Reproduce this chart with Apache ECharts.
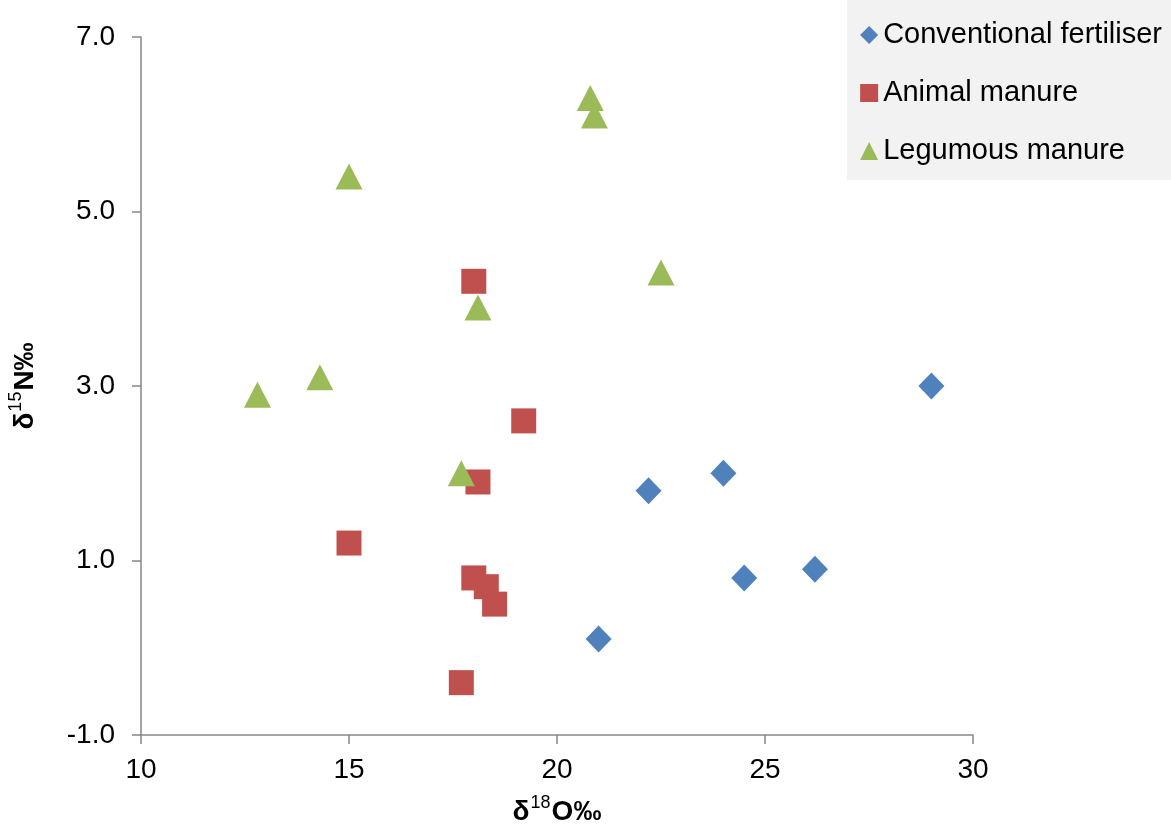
<!DOCTYPE html>
<html>
<head>
<meta charset="utf-8">
<script src="https://cdn.jsdelivr.net/npm/echarts@6/dist/echarts.min.js"></script>
<style>
html,body{margin:0;padding:0;background:#fff;}
#chart{width:1171px;height:828px;}
</style>
</head>
<body>
<div id="chart"></div>
<script>
// Data (x = δ18O‰, y = δ15N‰)
const seriesNames = ['Conventional fertiliser', 'Animal manure', 'Legumous manure'];
const conventionalFertiliser = [[29.0, 3.0], [24.0, 2.0], [22.2, 1.8], [24.5, 0.8], [26.2, 0.9], [21.0, 0.1]];
const animalManure = [[18.0, 4.2], [19.2, 2.6], [18.1, 1.9], [15.0, 1.2], [18.0, 0.8], [18.3, 0.7], [18.5, 0.5], [17.7, -0.4]];
const legumousManure = [[20.8, 6.3], [20.9, 6.1], [15.0, 5.4], [22.5, 4.3], [18.1, 3.9], [14.3, 3.1], [12.8, 2.9], [17.7, 2.0]];
const xTicks = [10, 15, 20, 25, 30];
const yTicks = [-1, 1, 3, 5, 7];

const FONT = 'Liberation Sans, Arial, sans-serif';
const axisColor = '#868686';

const titleRich = {
  b: {fontFamily: FONT, fontSize: 28, fontWeight: 'bold', color: '#000', lineHeight: 32, verticalAlign: 'bottom'},
  s: {fontFamily: FONT, fontSize: 18, fontWeight: 'normal', color: '#000', lineHeight: 32, verticalAlign: 'top', padding: [0, 1, 12, 1]}
};

const chart = echarts.init(document.getElementById('chart'), null, {renderer: 'canvas'});
chart.setOption({
  animation: false,
  backgroundColor: '#ffffff',
  textStyle: {fontFamily: FONT},
  grid: {left: 141, right: 198, top: 37, bottom: 93, containLabel: false, outerBoundsMode: 'none'},
  legend: {
    orient: 'vertical',
    right: 0,
    top: 0,
    backgroundColor: '#F2F2F2',
    padding: [20, 9, 14, 13],
    itemGap: 28,
    itemWidth: 18,
    itemHeight: 18,
    textStyle: {fontFamily: FONT, fontSize: 29, color: '#000', lineHeight: 30},
    data: [
      {name: seriesNames[0], icon: 'diamond'},
      {name: seriesNames[1], icon: 'rect'},
      {name: seriesNames[2], icon: 'triangle'}
    ]
  },
  xAxis: {
    type: 'value',
    min: xTicks[0],
    max: xTicks[xTicks.length - 1],
    interval: 5,
    name: '{b|δ}{s|18}{b|O‰}',
    nameLocation: 'middle',
    nameGap: 59,
    nameTextStyle: {rich: titleRich},
    axisLine: {show: true, onZero: false, lineStyle: {color: axisColor, width: 1.5}},
    axisTick: {show: true, inside: false, length: 9, lineStyle: {color: axisColor, width: 1.5}},
    axisLabel: {color: '#000', fontSize: 28, fontFamily: FONT, margin: 21},
    splitLine: {show: false}
  },
  yAxis: {
    type: 'value',
    min: yTicks[0],
    max: yTicks[yTicks.length - 1],
    interval: 1,
    name: '{b|δ}{s|15}{b|N‰}',
    nameLocation: 'middle',
    nameRotate: 90,
    nameGap: 102,
    nameTextStyle: {rich: titleRich},
    axisLine: {show: true, onZero: false, lineStyle: {color: axisColor, width: 1.5}},
    axisTick: {show: true, inside: false, length: 9, customValues: yTicks, lineStyle: {color: axisColor, width: 1.5}},
    axisLabel: {color: '#000', fontSize: 28, fontFamily: FONT, margin: 26, customValues: yTicks,
      formatter: v => Number(v).toFixed(1)},
    splitLine: {show: false}
  },
  series: [
    {
      name: seriesNames[0], type: 'scatter', symbol: 'diamond', symbolSize: [26, 27],
      itemStyle: {color: '#4F81BD', opacity: 1}, data: conventionalFertiliser
    },
    {
      name: seriesNames[1], type: 'scatter', symbol: 'rect', symbolSize: 25,
      itemStyle: {color: '#C0504D', opacity: 1}, data: animalManure
    },
    {
      name: seriesNames[2], type: 'scatter', symbol: 'triangle', symbolSize: [27, 26],
      itemStyle: {color: '#9BBB59', opacity: 1}, data: legumousManure
    }
  ]
});
</script>
</body>
</html>
